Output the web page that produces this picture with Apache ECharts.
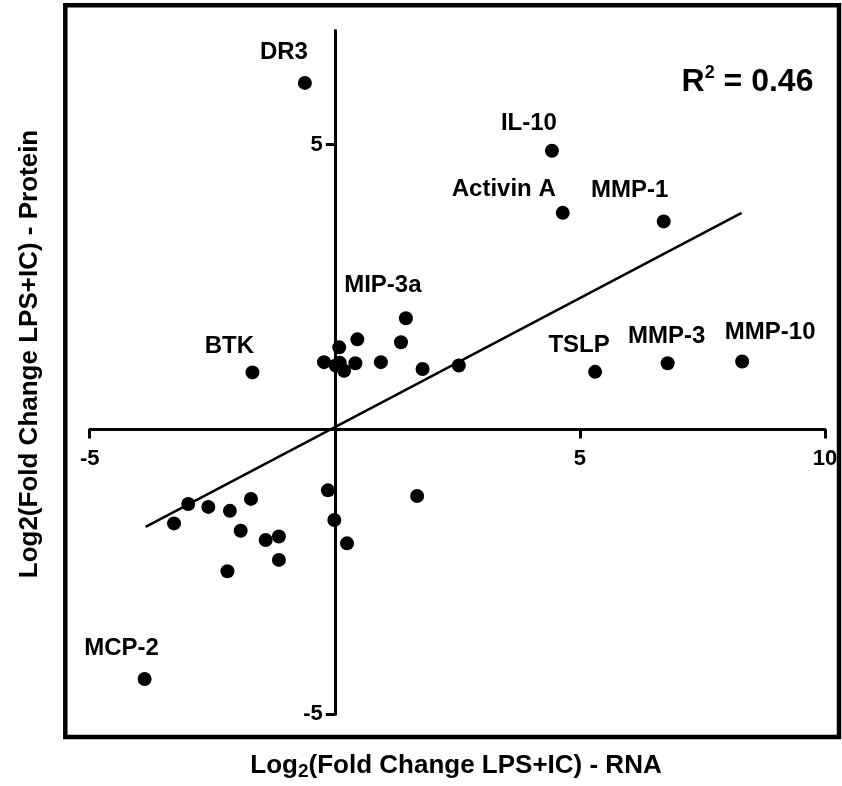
<!DOCTYPE html>
<html>
<head>
<meta charset="utf-8">
<script src="https://cdn.jsdelivr.net/npm/echarts@6/dist/echarts.min.js"></script>
<style>html,body{margin:0;padding:0;background:#fff}#c{width:842px;height:786px}</style>
</head>
<body>
<div id="c"></div>
<script>
// ---- data ----
const labeledNames = ['DR3', 'IL-10', 'Activin A', 'MMP-1', 'MIP-3a', 'BTK', 'TSLP', 'MMP-3', 'MMP-10', 'MCP-2'];
const labeledRNA = [-0.61, 4.43, 4.65, 6.71, 1.45, -1.68, 5.31, 6.79, 8.31, -3.88];
const labeledProtein = [6.08, 4.89, 3.80, 3.65, 1.95, 1.00, 1.01, 1.16, 1.19, -4.38];

const otherRNA = [1.35, 0.46, 0.09, -0.22, 0.02, 0.10, 0.19, 0.42, 0.94, 1.79, 2.53,
                  -0.14, 1.68, -0.01, 0.25, -2.99, -3.28, -2.58, -2.14, -1.71, -1.92, -1.41, -1.14, -1.14, -2.19];
const otherProtein = [1.53, 1.58, 1.44, 1.18, 1.12, 1.17, 1.03, 1.16, 1.18, 1.06, 1.12,
                      -1.07, -1.17, -1.59, -2.00, -1.31, -1.65, -1.36, -1.43, -1.22, -1.78, -1.94, -1.88, -2.29, -2.49];

const fitRNA = [-3.86, 8.30];
const fitProtein = [-1.71, 3.80];

const xTicks = [-5, 5, 10];
const yTicks = [-5, 5];
const rSquaredText = '0.46';

// ---- layout (label offsets in px, relative to the point) ----
const labelOffsets = {
  'DR3': [-21, -31], 'IL-10': [-23, -27], 'Activin A': [-59, -23], 'MMP-1': [-34, -31],
  'MIP-3a': [-23, -33], 'BTK': [-23, -26], 'TSLP': [-16, -26], 'MMP-3': [-1, -27],
  'MMP-10': [28, -29], 'MCP-2': [-23, -31]
};

const FONT = '"Liberation Sans", Arial, Helvetica, sans-serif';
const INK = '#000';

// plot grid geometry (px)
const PL = 89.7, PT = 30.5, PW = 735.3, PH = 683.8;
const X_MIN = -5, X_MAX = 10, Y_MIN = -5, Y_MAX = 7;
// offsets so that the axes cross at the origin (labels travel with the axes)
const xAxisOffset = -PH * (0 - Y_MIN) / (Y_MAX - Y_MIN);
const yAxisOffset = -PW * (0 - X_MIN) / (X_MAX - X_MIN);

const labeledData = labeledNames.map((n, i) => ({
  name: n,
  value: [labeledRNA[i], labeledProtein[i]],
  label: { offset: labelOffsets[n] }
}));
const otherData = otherRNA.map((x, i) => [x, otherProtein[i]]);
const fitData = fitRNA.map((x, i) => [x, fitProtein[i]]);

const chart = echarts.init(document.getElementById('c'), null, { renderer: 'canvas' });

const tickLabelStyle = { color: INK, fontFamily: FONT, fontWeight: 'bold', fontSize: 22 };

chart.setOption({
  animation: false,
  backgroundColor: '#fff',
  grid: [
    { left: 65.3, top: 5.3, width: 773.7, height: 731.7, show: true, borderColor: INK, borderWidth: 4.5, backgroundColor: 'transparent' },
    { left: PL, top: PT, width: PW, height: PH }
  ],
  xAxis: [
    { gridIndex: 0, type: 'value', show: false, min: 0, max: 1 },
    {
      gridIndex: 1, type: 'value', min: X_MIN, max: X_MAX, interval: 5,
      position: 'bottom', offset: xAxisOffset,
      axisLine: { show: true, onZero: false, lineStyle: { color: INK, width: 3 } },
      axisTick: { show: true, customValues: xTicks, length: 9, lineStyle: { color: INK, width: 3 } },
      axisLabel: Object.assign({ customValues: xTicks, margin: 19 }, tickLabelStyle),
      splitLine: { show: false }
    }
  ],
  yAxis: [
    { gridIndex: 0, type: 'value', show: false, min: 0, max: 1 },
    {
      gridIndex: 1, type: 'value', min: Y_MIN, max: Y_MAX, interval: 5,
      position: 'left', offset: yAxisOffset,
      axisLine: { show: true, onZero: false, lineStyle: { color: INK, width: 3 } },
      axisTick: { show: true, customValues: yTicks, length: 9, lineStyle: { color: INK, width: 3 } },
      axisLabel: Object.assign({ customValues: yTicks, margin: 12 }, tickLabelStyle),
      splitLine: { show: false }
    }
  ],
  series: [
    {
      type: 'line', xAxisIndex: 1, yAxisIndex: 1, data: fitData,
      symbol: 'none', lineStyle: { color: INK, width: 2.5, opacity: 1 }, silent: true, z: 3
    },
    {
      type: 'scatter', xAxisIndex: 1, yAxisIndex: 1, data: otherData,
      symbol: 'circle', symbolSize: 14, itemStyle: { color: INK, opacity: 1 }, z: 4
    },
    {
      type: 'scatter', xAxisIndex: 1, yAxisIndex: 1, data: labeledData,
      symbol: 'circle', symbolSize: 14, itemStyle: { color: INK, opacity: 1 }, z: 4,
      label: {
        show: true, position: 'inside', formatter: p => p.name,
        color: INK, fontFamily: FONT, fontWeight: 'bold', fontSize: 24
      }
    }
  ],
  graphic: [
    {
      type: 'text', x: 747.5, y: 82, z: 10,
      style: {
        text: '{a|R}{b|2}{a| = ' + rSquaredText + '}',
        align: 'center', verticalAlign: 'middle',
        rich: {
          a: { fontFamily: FONT, fontWeight: 'bold', fontSize: 32, lineHeight: 36, fill: INK, color: INK },
          b: { fontFamily: FONT, fontWeight: 'bold', fontSize: 18, lineHeight: 24, verticalAlign: 'top', fill: INK, color: INK }
        }
      }
    },
    {
      type: 'text', x: 456, y: 766, z: 10,
      style: {
        text: '{a|Log}{s|2}{a|(Fold Change LPS+IC) - RNA}',
        align: 'center', verticalAlign: 'middle',
        rich: {
          a: { fontFamily: FONT, fontWeight: 'bold', fontSize: 26, lineHeight: 30, fill: INK, color: INK },
          s: { fontFamily: FONT, fontWeight: 'bold', fontSize: 19, lineHeight: 13, verticalAlign: 'bottom', fill: INK, color: INK }
        }
      }
    },
    {
      type: 'text', x: 30, y: 354, rotation: Math.PI / 2, z: 10,
      style: {
        text: 'Log2(Fold Change LPS+IC) - Protein',
        align: 'center', verticalAlign: 'middle',
        font: 'bold 26px ' + FONT, fill: INK
      }
    }
  ]
});
</script>
</body>
</html>
